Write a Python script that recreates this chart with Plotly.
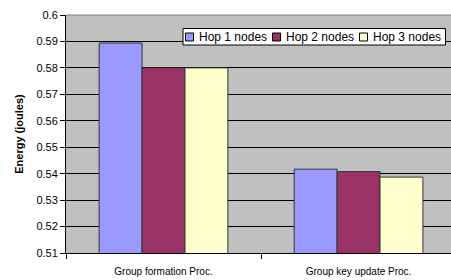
import plotly.graph_objects as go

categories = ["Group formation Proc.", "Group key update Proc."]
series_names = ["Hop 1 nodes", "Hop 2 nodes", "Hop 3 nodes"]
hop1 = [0.5894, 0.5417]
hop2 = [0.5800, 0.5408]
hop3 = [0.5800, 0.5387]
colors = ["#9999FF", "#993366", "#FFFFCC"]
y_ticks = [0.51, 0.52, 0.53, 0.54, 0.55, 0.56, 0.57, 0.58, 0.59, 0.6]
y_tick_labels = ["0.51", "0.52", "0.53", "0.54", "0.55", "0.56", "0.57", "0.58", "0.59", "0.6"]

W, H = 451, 280
ML, MR, MT, MB = 66, 0, 15, 27
PW, PH = W - ML - MR, H - MT - MB


def px_x(px):
    return (px - ML) / PW


def px_y(py):
    return (H - MB - py) / PH


fig = go.Figure()
for name, vals, c in zip(series_names, [hop1, hop2, hop3], colors):
    fig.add_trace(go.Bar(
        x=categories, y=vals, name=name,
        marker=dict(color=c, line=dict(color="#333333", width=1)),
        showlegend=False,
    ))

# manual compact legend (Excel style)
fig.add_shape(type="rect", xref="paper", yref="paper",
              x0=px_x(183), x1=px_x(445.5), y0=px_y(45), y1=px_y(28.5),
              fillcolor="white", line=dict(color="black", width=1), layer="above")
for i, (name, c) in enumerate(zip(series_names, colors)):
    sx = 185.5 + i * 87
    fig.add_shape(type="rect", xref="paper", yref="paper",
                  x0=px_x(sx), x1=px_x(sx + 8), y0=px_y(41), y1=px_y(33),
                  fillcolor=c, line=dict(color="black", width=1), layer="above")
    fig.add_annotation(xref="paper", yref="paper", x=px_x(sx + 11.5), y=px_y(37),
                       text=name, showarrow=False, xanchor="left", yanchor="middle",
                       font=dict(size=12, color="black"))

fig.update_layout(
    width=W, height=H,
    margin=dict(l=ML, r=MR, t=MT, b=MB, autoexpand=False),
    paper_bgcolor="white",
    plot_bgcolor="#C0C0C0",
    barmode="group",
    bargap=0.34,
    bargroupgap=0,
    font=dict(family="Liberation Sans, Arial, sans-serif", size=11, color="black"),
    showlegend=False,
    xaxis=dict(
        range=[-0.5, 1.474],
        automargin=False,
        showline=True, linecolor="black", linewidth=1,
        ticks="outside", ticklen=5, tickcolor="black",
        tickson="boundaries",
        showgrid=False,
        ticklabelstandoff=9,
        tickfont=dict(size=10),
    ),
    yaxis=dict(
        range=[0.51, 0.6],
        automargin=False,
        tickvals=y_ticks, ticktext=y_tick_labels,
        showline=True, linecolor="black", linewidth=1,
        ticks="outside", ticklen=5, tickcolor="black",
        showgrid=True, gridcolor="black", gridwidth=1,
        zeroline=False,
        tickfont=dict(size=11),
        title=dict(text="<b>Energy (joules)</b>", font=dict(size=11), standoff=10),
    ),
)
fig.add_shape(type="line", xref="paper", yref="paper", x0=0, x1=1, y0=1, y1=1,
              line=dict(color="#808080", width=1), layer="above")

fig.write_html("out.html",
               config={"displayModeBar": False},
               post_script="document.body.style.margin='0';document.body.style.overflow='hidden';")
